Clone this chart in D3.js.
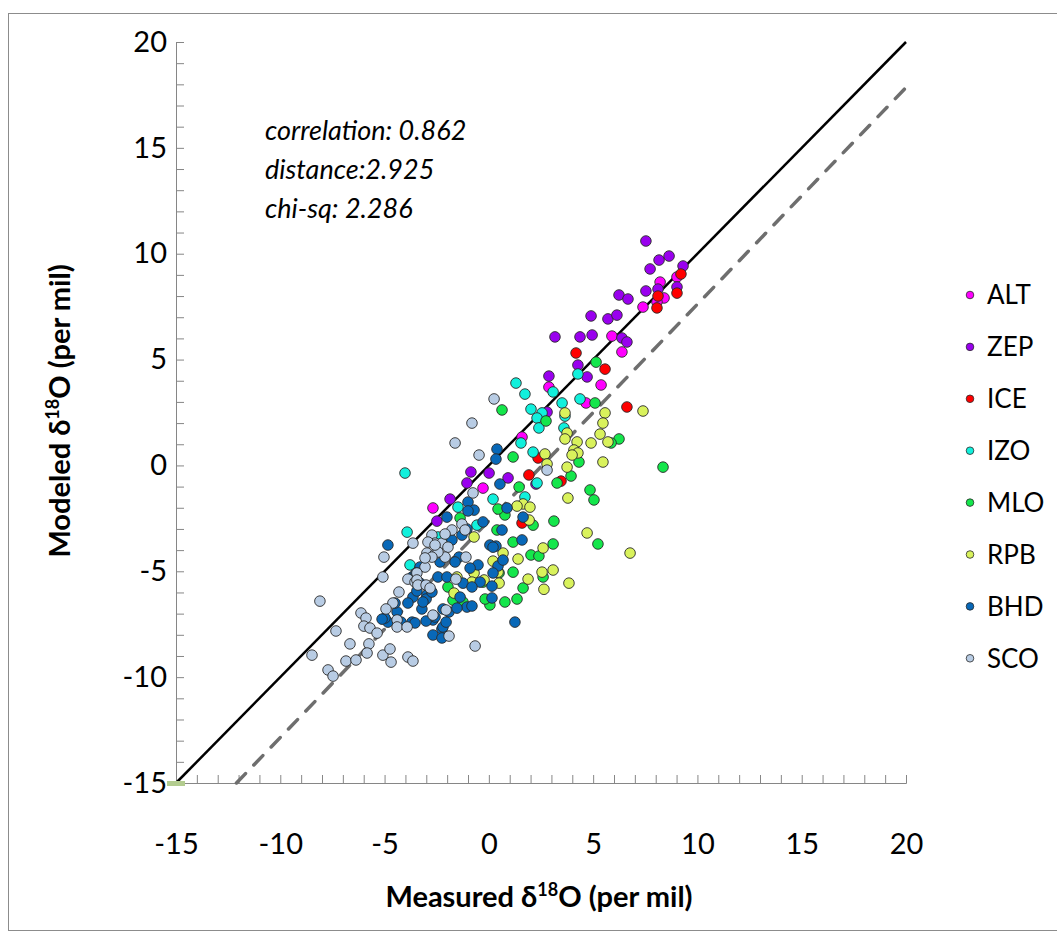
<!DOCTYPE html>
<meta charset="utf-8">
<script src="https://d3js.org/d3.v7.min.js"></script>
<style>
  body { margin: 0; background: #fff; }
  text { font-family: Lato, "Open Sans", sans-serif; }
</style>
<div id="chart"></div>
<script>

// station series, [measured, modeled] in per mil
var ALT = [[8.21,8.66],[8.40,7.91],[8.06,7.72],[7.39,7.48],[9.02,8.90],[5.90,6.11],[6.38,5.36],
  [5.38,3.80],[4.66,2.95],[2.88,3.70],[1.59,1.34],[-0.28,-1.07],[-2.68,-2.01]];
var ZEP = [[7.53,10.60],[8.16,9.70],[8.64,9.89],[7.73,9.28],[9.31,9.42],[7.53,8.24],[8.11,8.33],
  [9.02,8.43],[6.24,8.05],[6.67,7.86],[4.90,7.06],[5.71,6.92],[6.14,7.10],[4.37,6.07],[4.95,6.16],
  [6.38,6.02],[6.62,5.83],[3.17,6.07],[4.27,4.74],[4.71,4.18],[2.88,4.22],[2.79,2.52],[0.01,-0.36],
  [0.92,-0.59],[2.26,-0.88],[-0.86,-0.31],[-1.05,-0.83],[-1.86,-1.59],[-2.49,-2.63]];
var ICE = [[9.21,9.04],[9.02,8.14],[8.11,8.00],[8.06,7.44],[4.18,5.31],[5.57,4.55],[6.62,2.76],
  [2.36,0.35],[1.92,-0.45],[3.46,-0.74],[1.59,-2.72]];
var IZO = [[4.27,4.32],[1.30,3.89],[1.73,3.37],[3.08,3.47],[3.51,2.95],[4.37,3.14],[2.02,2.66],
  [2.55,2.48],[2.31,2.24],[2.40,1.77],[3.65,2.33],[3.60,1.77],[1.54,1.06],[2.12,0.63],[2.31,-0.83],
  [0.20,-1.59],[1.73,-1.49],[-4.02,-0.36],[-3.92,-3.15],[-3.78,-4.70],[-1.48,-1.97],[-0.57,-2.82],
  [-2.44,-3.38],[-1.96,-3.48]];
var MLO = [[5.14,4.88],[5.09,2.95],[0.63,2.62],[2.74,2.10],[1.16,0.40],[6.24,1.25],[5.86,1.06],
  [4.32,0.16],[8.35,-0.08],[3.94,-0.50],[1.45,-1.02],[3.27,-0.83],[4.85,-1.16],[5.04,-1.63],
  [3.12,-2.63],[2.12,-2.82],[0.77,-2.34],[0.44,-2.06],[0.39,-3.05],[1.16,-3.62],[3.08,-3.71],
  [5.23,-3.71],[2.02,-4.23],[2.40,-4.28],[0.49,-5.08],[1.16,-5.04],[1.64,-5.79],[-0.28,-5.51],
  [1.35,-6.31],[0.77,-6.45],[0.05,-6.59],[-0.18,-6.31],[2.60,-5.27],[-1.38,-2.48],[-1.24,-6.45],
  [-1.96,-5.74],[-1.72,-6.36]];
var RPB = [[7.39,2.57],[5.57,2.48],[5.47,2.00],[5.33,1.48],[5.71,1.11],[4.90,1.06],[4.23,1.11],
  [3.75,1.53],[3.65,1.25],[4.08,0.73],[4.27,0.59],[3.99,0.49],[5.47,0.16],[3.75,-0.08],[2.69,0.54],
  [2.79,0.07],[3.65,2.48],[3.79,-1.54],[1.64,-1.82],[1.35,-1.92],[1.97,-1.97],[1.93,-2.58],
  [4.71,-3.19],[6.77,-4.14],[2.60,-3.90],[3.08,-4.94],[2.55,-5.04],[1.88,-5.37],[1.40,-4.42],
  [0.68,-4.14],[0.20,-4.52],[3.84,-5.56],[0.49,-5.56],[2.64,-5.85],[-0.71,-3.38],[-0.71,-5.08],
  [-0.81,-5.51],[-1.67,-6.03],[-0.23,-5.41],[0.44,-5.04],[-1.53,-5.27]];
var BHD = [[0.39,0.77],[0.34,0.30],[0.53,-0.88],[-1.00,-1.73],[-0.71,-2.11],[-1.00,-2.15],
  [-2.01,-2.44],[-0.28,-2.67],[0.87,-2.01],[1.64,-2.44],[1.59,-3.52],[0.63,-3.05],[-1.29,-3.29],
  [-1.05,-3.00],[-4.84,-3.76],[-1.77,-3.52],[0.05,-3.76],[0.34,-3.81],[-0.52,-4.70],[-0.90,-4.85],
  [-1.43,-4.33],[-1.62,-4.56],[-2.34,-4.56],[-3.30,-4.80],[-3.68,-5.27],[-3.30,-5.56],[-2.92,-5.74],
  [-2.44,-5.27],[-2.01,-5.27],[-1.24,-5.56],[-0.42,-5.51],[0.15,-5.70],[0.44,-4.75],[0.20,-5.08],
  [-3.64,-6.22],[-2.97,-6.12],[-3.49,-5.08],[-3.45,-5.93],[-3.01,-6.31],[-3.21,-6.78],[-2.73,-5.98],
  [-4.40,-6.92],[-4.84,-7.40],[-4.98,-7.21],[-4.21,-7.40],[-3.68,-7.40],[-2.68,-7.30],[-2.25,-7.73],
  [-2.68,-8.01],[-2.25,-8.15],[-1.91,-6.92],[-1.38,-6.22],[-0.81,-5.74],[-1.05,-6.69],[0.15,-6.26],
  [-4.50,-6.50],[-3.88,-6.50],[-3.16,-6.45],[-5.12,-7.26],[-3.54,-7.44],[-3.01,-7.35],[-2.58,-7.16],
  [-2.20,-6.78],[-1.53,-6.74],[-2.20,-7.63],[-2.05,-7.40],[-0.81,-6.64],[1.25,-7.40],[0.68,-4.47],
  [0.20,-3.86]];
var SCO = [[0.25,3.14],[-0.81,2.00],[-1.62,1.06],[-0.47,0.49],[-0.76,-1.30],[2.79,-0.22],
  [-1.29,-2.77],[-1.14,-3.05],[-1.77,-3.05],[-2.73,-3.29],[-2.58,-3.67],[-2.25,-3.67],[-1.96,-3.86],
  [-2.10,-3.24],[-3.64,-3.67],[-2.92,-3.62],[-5.03,-4.33],[-5.08,-5.27],[-2.97,-4.14],[-2.58,-4.19],
  [-2.10,-4.33],[-1.10,-4.33],[-2.44,-4.09],[-2.73,-4.33],[-3.06,-4.80],[-3.06,-4.37],[-3.88,-5.37],
  [-3.54,-5.51],[-3.45,-5.08],[-3.45,-5.41],[-3.40,-5.65],[-3.01,-5.65],[-2.82,-5.79],[-1.58,-5.37],
  [-4.31,-5.98],[-4.60,-6.50],[-4.93,-6.78],[-6.13,-6.97],[-5.89,-7.21],[-5.99,-7.59],[-5.70,-7.68],
  [-5.36,-7.92],[-7.33,-7.82],[-6.66,-8.43],[-5.75,-8.43],[-5.84,-8.86],[-8.48,-8.96],[-6.85,-9.24],
  [-6.37,-9.19],[-7.71,-9.66],[-7.47,-9.95],[-5.08,-8.96],[-4.74,-8.67],[-4.69,-9.29],[-3.88,-9.05],
  [-3.64,-9.24],[-4.40,-7.30],[-4.40,-7.63],[-3.92,-7.63],[-2.68,-7.07],[-2.05,-6.83],[-1.91,-8.06],
  [-0.66,-8.53],[-8.10,-6.41],[-2.58,-3.76]];

var stations = ["ALT", "ZEP", "ICE", "IZO", "MLO", "RPB", "BHD", "SCO"];
var seriesData = [ALT, ZEP, ICE, IZO, MLO, RPB, BHD, SCO];
var colors = ["#ff00ff", "#9900ee", "#ff0000", "#11f0dc", "#14e64b", "#d9f25c", "#0868b8", "#b8cce4"];

// reference lines
var oneToOne = [[-15, -15], [20, 20]];
var offsetLine = [[-12.1, -15], [20, 17.85]];

var axisTicks = d3.range(-15, 21, 1);
var stats = ["correlation: 0.862", "distance:2.925", "chi-sq: 2.286"];

var margin = {top: 42, left: 176},
    width = 730,
    height = 741;

var svg = d3.select("#chart").append("svg")
    .attr("width", 1057)
    .attr("height", 938);

// outer frame (right side runs off the picture)
svg.append("rect")
    .attr("x", 8.5).attr("y", 13.5)
    .attr("width", 1060).attr("height", 917)
    .attr("fill", "none")
    .attr("stroke", "#8c8c8c");

var g = svg.append("g")
    .attr("transform", "translate(" + margin.left + "," + margin.top + ")");

var x = d3.scaleLinear().domain([-15, 20]).range([0, width]);
var y = d3.scaleLinear().domain([-15, 20]).range([height, 0]);

var fmt = function(d) { return d % 5 === 0 ? d : ""; };

var xa = g.append("g")
    .attr("transform", "translate(0," + height + ")")
    .call(d3.axisBottom(x).tickValues(axisTicks).tickSize(-8).tickPadding(50).tickFormat(fmt));
var ya = g.append("g")
    .call(d3.axisLeft(y).tickValues(axisTicks).tickSize(-8).tickPadding(9).tickFormat(fmt));

[xa, ya].forEach(function(a) {
  a.select(".domain").attr("stroke", "#868686");
  a.selectAll(".tick line").attr("stroke", "#868686");
  a.selectAll(".tick text")
    .attr("fill", "#000")
    .style("font-size", "29px")
    .style("font-family", "Lato, sans-serif");
});

var line = d3.line().x(function(d) { return x(d[0]); }).y(function(d) { return y(d[1]); });

g.append("path")
    .datum(offsetLine)
    .attr("d", line)
    .attr("fill", "none")
    .attr("stroke", "#6e6e6e")
    .attr("stroke-width", 3.5)
    .attr("stroke-linecap", "round")
    .attr("stroke-dasharray", "13,12");

g.append("path")
    .datum(oneToOne)
    .attr("d", line)
    .attr("fill", "none")
    .attr("stroke", "#000")
    .attr("stroke-width", 2.5);

// small pale green marker at the origin corner
g.append("rect")
    .attr("x", x(-15) - 9).attr("y", y(-15) - 2)
    .attr("width", 18).attr("height", 5)
    .attr("fill", "#b3cc8f");

// points, series order as drawn
seriesData.forEach(function(pts, i) {
  g.append("g").selectAll("circle")
    .data(pts)
    .enter().append("circle")
      .attr("cx", function(d) { return x(d[0]); })
      .attr("cy", function(d) { return y(d[1]); })
      .attr("r", 5.3)
      .attr("fill", colors[i])
      .attr("stroke", "#2a2a2a")
      .attr("stroke-width", 0.9);
});

// stats text
g.selectAll(".stat")
    .data(stats)
    .enter().append("text")
      .attr("x", 89)
      .attr("y", function(d, i) { return 98 + i * 39; })
      .style("font-size", "27px")
      .style("font-style", "italic")
      .text(function(d) { return d; });

// legend
var leg = svg.append("g").attr("transform", "translate(970,295)");
stations.forEach(function(s, i) {
  var row = leg.append("g").attr("transform", "translate(0," + (i * 51.9) + ")");
  row.append("circle")
      .attr("r", 3.8)
      .attr("fill", colors[i])
      .attr("stroke", "#2a2a2a")
      .attr("stroke-width", 0.8);
  row.append("text")
      .attr("x", 17)
      .attr("dy", "0.36em")
      .style("font-size", "26px")
      .text(s);
});

// axis titles
var xt = svg.append("text")
    .attr("x", 539).attr("y", 907)
    .attr("text-anchor", "middle")
    .style("font-size", "29px")
    .style("font-weight", "bold");
xt.append("tspan").text("Measured δ");
xt.append("tspan").attr("dy", -11).style("font-size", "18px").text("18");
xt.append("tspan").attr("dy", 11).text("O (per mil)");

var yt = svg.append("text")
    .attr("transform", "translate(70,411) rotate(-90)")
    .attr("text-anchor", "middle")
    .style("font-size", "29px")
    .style("font-weight", "bold");
yt.append("tspan").text("Modeled δ");
yt.append("tspan").attr("dy", -11).style("font-size", "18px").text("18");
yt.append("tspan").attr("dy", 11).text("O (per mil)");

</script>
